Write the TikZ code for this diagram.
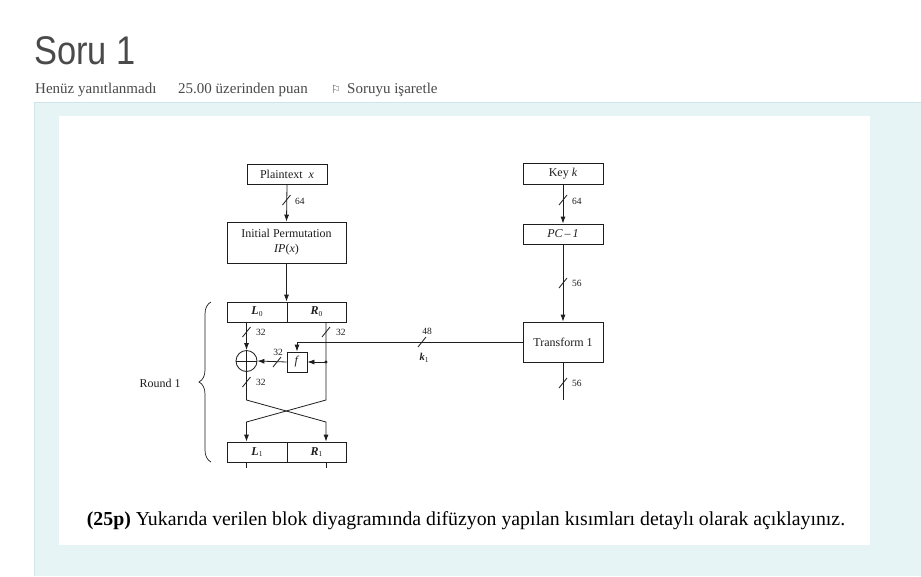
\documentclass[tikz,border=0pt]{standalone}
\usepackage{fontspec}
\setmainfont{Liberation Serif}
\newfontfamily\titlefont{Liberation Sans}
\newfontfamily\symfont{DejaVu Sans}
\usetikzlibrary{arrows.meta,decorations.pathreplacing}
\definecolor{panel}{HTML}{E7F4F6}
\definecolor{panelline}{HTML}{CFE5E7}
\definecolor{ink}{HTML}{1E1E1E}
\definecolor{headgray}{HTML}{4A4A4A}
\newcommand\mysub[1]{\raisebox{-1.8pt}{\fontsize{7.5}{8}\selectfont #1}}
\newcommand\bitmark[1]{\draw[wire] ([shift={(-4,5)}]#1) -- ([shift={(4,-5)}]#1);}
\begin{document}
\begin{tikzpicture}[x=1pt,y=-1pt,
 box/.style={draw=ink, line width=0.8pt, inner sep=0pt, font=\fontsize{12}{14}\selectfont, text=ink},
 wire/.style={draw=ink, line width=0.8pt},
 arr/.style={wire, -{Latex[length=7pt,width=5pt]}},
 bits/.style={font=\fontsize{9.5}{11}\selectfont, text=ink, inner sep=1pt},
 hdr/.style={font=\fontsize{15}{17}\selectfont, text=headgray, anchor=base west, inner sep=0pt},
]
\useasboundingbox (0,0) rectangle (921,576);
\fill[white] (0,0) rectangle (921,576);
\fill[panel] (34,102) rectangle (921,576);
\draw[panelline, line width=1pt] (34,576) -- (34,102) -- (921,102);
\fill[white] (59,116) rectangle (870,545);

% header
\node[anchor=base west, inner sep=0pt, text=headgray, font=\titlefont\fontsize{40}{44}\selectfont] (title) at (34,64) {\scalebox{0.86}[1]{Soru 1}};
\node[hdr] (h1) at (35,93) {Henüz yanıtlanmadı};
\node[hdr] (h2) at (178,93) {25.00 üzerinden puan};
\node[hdr, font=\symfont\fontsize{11}{12}\selectfont] (flag) at (331,93) {⚐};
\node[hdr] (h3) at (347,93) {Soruyu işaretle};

% boxes
\node[box, minimum width=80, minimum height=20] (pt) at (287,174) {Plaintext\ \ \textit{x}};
\node[box, minimum width=119, minimum height=41, align=center] (ip) at (286.5,242.5) {Initial Permutation\\[1pt]\textit{IP}(\textit{x})};
\node[box, minimum width=60, minimum height=20] (L0) at (257,312) {\textbf{\textit{L}}\mysub{0}};
\node[box, minimum width=59, minimum height=20] (R0) at (316.5,312) {\textbf{\textit{R}}\mysub{0}};
\node[box, minimum width=60, minimum height=20] (L1) at (257,452) {\textbf{\textit{L}}\mysub{1}};
\node[box, minimum width=59, minimum height=20] (R1) at (316.5,452) {\textbf{\textit{R}}\mysub{1}};
\node[box, minimum width=20, minimum height=20] (f) at (297,362) {\textit{f}};
\node[draw=ink, line width=0.8pt, circle, minimum size=21, inner sep=0pt] (xor) at (246.5,361) {};
\draw[wire] (xor.north) -- (xor.south) (xor.west) -- (xor.east);
\node[box, minimum width=80, minimum height=21] (key) at (563,174) {Key \textit{k}};
\node[box, minimum width=80, minimum height=20] (pc) at (563,234) {\textit{PC}\,--\,\textit{1}};
\node[box, minimum width=80, minimum height=40] (tr) at (563,342) {Transform 1};

% coordinates
\coordinate (xl) at (246.5,0);
\coordinate (xr) at (326,0);
\coordinate (dot) at (326,362);
\coordinate (c1) at (246.5,400);
\coordinate (c2) at (326,400);
\coordinate (c3) at (246.5,422);
\coordinate (c4) at (326,422);
\coordinate (tend) at (563,400);

% connectors
\draw[arr] (pt.south) -- (ip.north);
\draw[arr] (ip.south) -- (ip.south |- L0.north);
\draw[arr] (L0.south -| xl) -- (xor.north);
\draw[arr] (xor.south) -- (c1) -- (c4) -- (R1.north -| xr);
\draw[arr] (R0.south -| xr) -- (c2) -- (c3) -- (L1.north -| xl);
\fill[ink] (dot) circle (1.6);
\draw[arr] (dot) -- (f.east);
\draw[arr] (f.west) -- (xor.east);
\draw[arr] (tr.west) -| (f.north);
\draw[arr] (key.south) -- (pc.north);
\draw[arr] (pc.south) -- (tr.north);
\draw[wire] (tr.south) -- (tend);
\draw[wire] (L1.south -| xl) -- ++(0,6);
\draw[wire] (R1.south -| xr) -- ++(0,6);

% bit marks
\coordinate (m1) at (286.5,200); \bitmark{m1}
\coordinate (m2) at (246.5,332); \bitmark{m2}
\coordinate (m3) at (326,332); \bitmark{m3}
\coordinate (m4) at (246.5,382); \bitmark{m4}
\coordinate (m5) at (277,362); \bitmark{m5}
\coordinate (m6) at (422,342); \bitmark{m6}
\coordinate (m7) at (563,200); \bitmark{m7}
\coordinate (m8) at (563,283); \bitmark{m8}
\coordinate (m9) at (563,383); \bitmark{m9}

\node[bits, anchor=west] (b1) at (294,201) {64};
\node[bits, anchor=west] (b2) at (255,332) {32};
\node[bits, anchor=west] (b3) at (335,332) {32};
\node[bits, anchor=west] (b4) at (255,382) {32};
\node[bits] (b5) at (278,352) {32};
\node[bits] (b6) at (427,331) {48};
\node[bits, font=\fontsize{10.5}{12}\selectfont] (k1) at (424,358) {\textbf{\textit{k}}\mysub{1}};
\node[bits, anchor=west] (b7) at (571,201) {64};
\node[bits, anchor=west] (b8) at (571,283) {56};
\node[bits, anchor=west] (b9) at (571,383) {56};

% brace
\draw[ink, line width=0.7pt, decorate, decoration={brace, amplitude=12pt}] (211,462) -- (211,302);
\node[font=\fontsize{12}{14}\selectfont, text=ink] (round) at (160,383) {Round 1};

% question
\node[font=\fontsize{19.8}{22}\selectfont, text=black, inner sep=0pt] (q) at (466,521) {\textbf{(25p)} Yukarıda verilen blok diyagramında difüzyon yapılan kısımları detaylı olarak açıklayınız.};
\end{tikzpicture}
\end{document}
